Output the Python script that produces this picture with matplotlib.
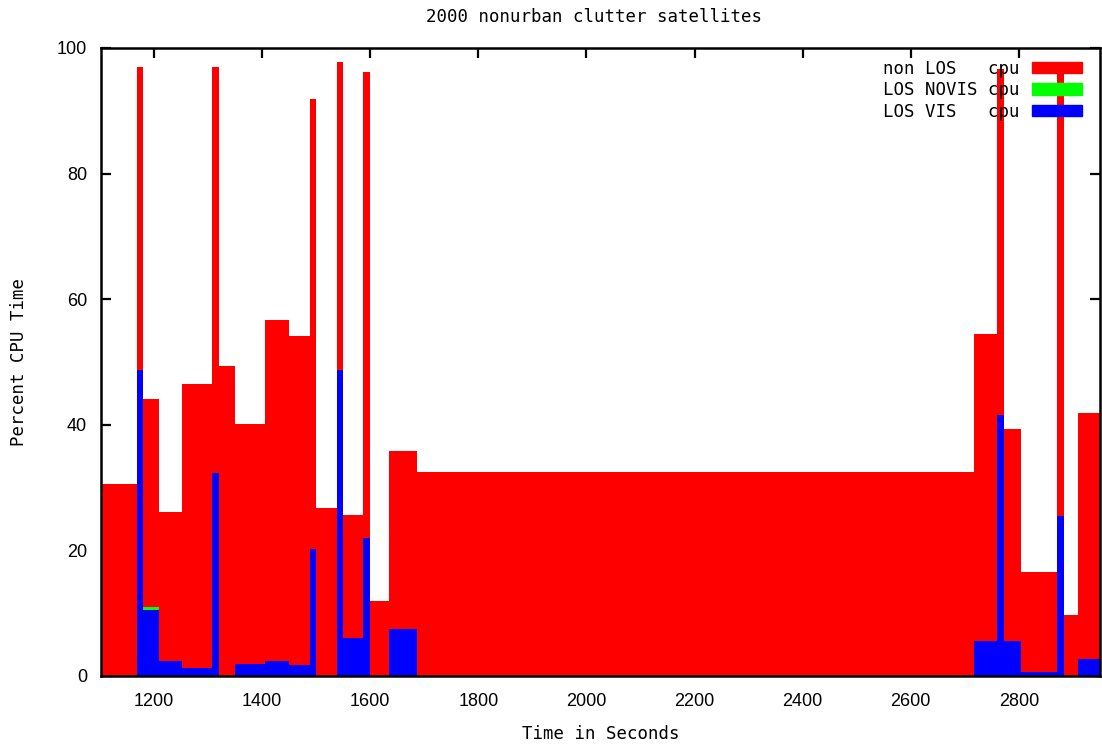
import numpy as np
import matplotlib
matplotlib.use("Agg")
import matplotlib.pyplot as plt
from matplotlib.patches import Patch

# interval boundaries (s); value i covers t_edges[i] .. t_edges[i+1]
t_edges = [1102, 1168, 1180, 1210, 1251, 1308, 1320, 1350, 1405, 1450, 1489,
           1500, 1538, 1550, 1587, 1600, 1635, 1687, 2717, 2759, 2773, 2804,
           2871, 2883, 2910, 2950]

# per-interval CPU share (%), one entry per interval
los_vis_cpu = [0, 48.7, 10.5, 2.4, 1.3, 32.3, 0, 1.9, 2.4, 1.7, 20.2, 0, 48.7,
               6.0, 22.0, 0, 7.5, 0, 5.5, 41.6, 5.5, 0.7, 25.4, 0, 2.7]
los_novis_cpu = [0, 0, 0.5, 0, 0, 0, 0, 0, 0, 0, 0, 0, 0,
                 0, 0, 0, 0, 0, 0, 0, 0, 0, 0, 0, 0]
non_los_cpu = [30.5, 48.2, 33.1, 23.7, 45.2, 64.7, 49.3, 38.3, 54.3, 52.5, 71.6,
               26.7, 49.0, 19.6, 74.1, 11.9, 28.3, 32.5, 49.0, 55.0, 33.9, 15.8,
               70.8, 9.7, 39.1]

x_ticks = [1200, 1400, 1600, 1800, 2000, 2200, 2400, 2600, 2800]
y_ticks = [0, 20, 40, 60, 80, 100]

MONO = "DejaVu Sans Mono"

fig = plt.figure(figsize=(11.02, 7.47), dpi=100)
ax = fig.add_axes([101 / 1102, 1 - 676 / 747, 999 / 1102, 628 / 747])

# stacked tops, last value repeated so step='post' closes the final interval
vis = np.array(los_vis_cpu, dtype=float)
novis_top = vis + np.array(los_novis_cpu, dtype=float)
total_top = novis_top + np.array(non_los_cpu, dtype=float)
t = np.array(t_edges, dtype=float)


def _ext(v):
    return np.append(v, v[-1])


ax.fill_between(t, _ext(total_top), step="post", color="#ff0000", lw=0, zorder=2)
ax.fill_between(t, _ext(novis_top), step="post", color="#00ff00", lw=0, zorder=3)
ax.fill_between(t, _ext(vis), step="post", color="#0000ff", lw=0, zorder=4)

ax.set_xlim(1102, 2950)
ax.set_ylim(0, 100)
ax.set_xticks(x_ticks)
ax.set_yticks(y_ticks)
ax.tick_params(direction="in", length=7, width=1.6, top=True, right=True,
               labelsize=13)
ax.tick_params(axis="x", pad=12)
ax.tick_params(axis="y", pad=10)
for lab in ax.get_xticklabels() + ax.get_yticklabels():
    lab.set_fontfamily("Liberation Sans")
for sp in ax.spines.values():
    sp.set_linewidth(1.8)
    sp.set_zorder(6)

ax.set_xlabel("Time in Seconds", family=MONO, fontsize=12.5, labelpad=11)
ax.set_ylabel("Percent CPU Time", family=MONO, fontsize=12.5, labelpad=21)
fig.text(594 / 1102, 1 - 17 / 747, "2000 nonurban clutter satellites",
         family=MONO, fontsize=12.5, ha="center", va="center")

handles = [Patch(color="#ff0000"), Patch(color="#00ff00"), Patch(color="#0000ff")]
labels = ["non LOS   cpu", "LOS NOVIS cpu", "LOS VIS   cpu"]
leg = ax.legend(handles, labels, loc="upper right", markerfirst=False,
                frameon=False, prop={"family": MONO, "size": 12.5},
                handlelength=2.9, handleheight=0.65, handletextpad=0.7,
                labelspacing=0.2, borderpad=0,
                bbox_to_anchor=(1091 / 1102, 1 - 51 / 747),
                bbox_transform=fig.transFigure)
leg.set_zorder(7)

fig.savefig("out.png", dpi=100)
